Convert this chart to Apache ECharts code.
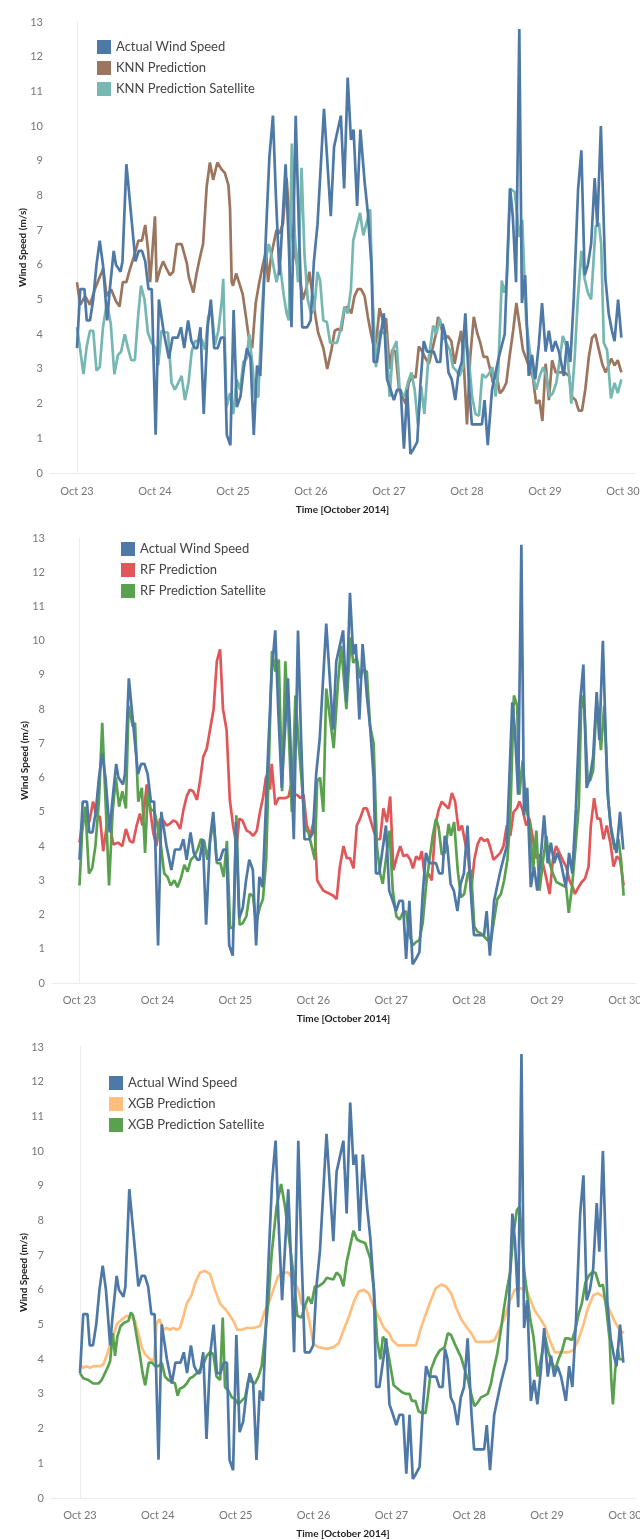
<!DOCTYPE html>
<html><head><meta charset="utf-8">
<script src="https://cdn.jsdelivr.net/npm/echarts@6/dist/echarts.min.js"></script>
<style>
html,body{margin:0;padding:0;background:#fff;width:640px;height:1539px;overflow:hidden}
.p{position:absolute;left:0;width:640px}
#p1{top:0;height:525px}#p2{top:515px;height:525px}#p3{top:1025px;height:514px}
</style></head><body>
<div id="p1" class="p"></div><div id="p2" class="p"></div><div id="p3" class="p"></div>
<script>
// hours since Oct 23 00:00
const tickHours = [0,24,48,72,96,120,144,168];
const tickLabels = ['Oct 23','Oct 24','Oct 25','Oct 26','Oct 27','Oct 28','Oct 29','Oct 30'];
const yTicks = [0,1,2,3,4,5,6,7,8,9,10,11,12,13];

const actual = [[0,3.6],[1,5.3],[2.3,5.3],[3,4.4],[4,4.4],[5,5.0],[6,6.0],[7,6.7],[8,6.0],[9.3,4.4],[10,5.2],[11.3,6.4],[12,6.0],[13.4,5.8],[14,6.1],[15.2,8.9],[17,7.1],[18,6.1],[19,6.4],[20,6.4],[21,6.1],[22,5.3],[23,5.3],[24.2,1.1],[25.2,5.0],[26.8,4.0],[28.3,3.3],[29.4,3.9],[31,3.9],[32,4.2],[33,3.6],[34.2,4.4],[35.2,3.8],[36.3,3.6],[37,3.6],[38,4.2],[39,1.7],[40.2,4.2],[41.2,5.0],[42.2,3.6],[43.3,3.6],[44.3,3.9],[45.3,3.9],[46.1,1.1],[47.2,0.8],[48.2,4.7],[49.2,1.9],[50.3,2.2],[51.3,3.0],[52.3,3.6],[53.4,3.3],[54.4,1.1],[55.4,3.1],[56.4,2.8],[58.2,7.0],[59.2,9.1],[60.3,10.3],[61.2,8.0],[62.3,5.7],[64.2,8.9],[65.2,6.5],[66,4.2],[67.3,10.3],[68.3,7.0],[69.3,4.2],[70.8,4.2],[71.9,4.4],[72.9,6.1],[74,7.15],[76,10.5],[78.1,7.4],[79.1,9.4],[81.2,10.3],[82.2,8.2],[83.3,11.4],[84.3,9.6],[85.1,9.9],[86.2,7.7],[87.2,9.9],[88.5,8.4],[89.5,7.5],[90.6,6.0],[91.3,3.2],[92.3,3.2],[94.4,4.6],[95.4,2.7],[96.5,2.4],[97.5,2.1],[98.5,2.4],[99.6,2.4],[100.6,0.7],[101.6,2.4],[102.6,0.55],[103.6,0.7],[104.7,0.9],[105.7,2.6],[106.7,3.8],[107.7,3.5],[108.8,3.5],[109.8,3.5],[110.8,3.2],[111.8,3.2],[112.5,4.3],[113.3,4.0],[114.3,2.9],[115.3,2.7],[116.4,2.1],[117.4,2.9],[118.4,3.2],[119.5,4.6],[120.7,2.4],[121.5,1.4],[122.5,1.4],[123.5,1.4],[124.6,1.4],[125.4,2.1],[126.4,0.8],[127.7,2.4],[129.7,3.3],[131.6,4.0],[133.3,8.2],[134.1,7.4],[135.1,5.5],[136.1,12.8],[136.9,4.9],[137.9,5.7],[139,2.8],[140,3.4],[141,2.7],[142.1,3.7],[143.1,4.9],[144.2,3.5],[145.2,4.1],[146.2,3.5],[147.2,3.8],[148.3,3.5],[149.8,2.8],[150.8,3.8],[151.8,3.2],[152.9,5.1],[154.2,8.2],[155.2,9.3],[156.2,5.7],[157.2,6.0],[158.2,6.6],[159.3,8.5],[160.1,7.1],[161.2,10.0],[162.6,5.6],[163.6,4.6],[164.6,4.1],[165.4,3.8],[166.5,5.0],[167.5,3.9]];

const knn = [[0,5.5],[1,4.85],[2.5,5.1],[4,4.85],[5.5,5.3],[7,5.65],[8.1,5.9],[9.1,5.1],[10.5,5.3],[12,4.95],[13.1,4.8],[14.1,5.5],[15.2,5.5],[16.2,5.85],[17.4,6.2],[18.9,6.7],[20,6.7],[21,7.15],[21.9,6.4],[22.5,5.5],[24,7.4],[24.5,5.5],[25.5,5.85],[26.5,6.1],[27.5,5.9],[28.6,5.7],[29.6,5.8],[30.7,6.6],[32.2,6.6],[33.8,6.05],[34.4,5.65],[35.8,5.2],[36.8,5.75],[37.8,6.2],[38.8,6.6],[39.9,8.25],[40.9,8.95],[41.9,8.45],[43.2,8.95],[44.5,8.75],[45.5,8.65],[46.6,8.3],[47.1,7.6],[47.6,5.5],[48,5.4],[49,5.75],[50,5.45],[51,5.15],[52,4.5],[52.8,3.95],[53.9,3.6],[55,4.9],[56,5.45],[57.2,6.0],[58.2,6.4],[58.8,5.5],[59.8,6.3],[61.4,7.0],[62.3,6.9],[63.4,7.2],[64.5,8.5],[65.3,7.4],[66,7.0],[67,6.3],[68.3,5.8],[69.5,5.0],[70.5,5.3],[71.5,5.8],[72.5,5.1],[73.4,4.5],[74.2,4.05],[75.8,3.6],[77,3.0],[78.3,3.55],[79.3,4.1],[80.3,4.15],[81.3,4.1],[82.3,4.7],[83.3,4.8],[84.4,4.6],[85.4,5.1],[86.4,5.3],[87.4,5.3],[88.5,5.1],[89.5,4.5],[90.5,4.0],[91.5,3.55],[92.3,4.0],[93.1,4.75],[94.1,4.4],[95.1,4.45],[96.2,3.0],[97,3.55],[98,3.5],[99.1,2.4],[100.1,2.2],[101.1,2.0],[102.1,2.6],[103.2,2.8],[104.2,2.75],[105.2,3.65],[106.2,3.5],[107.3,3.3],[108.3,3.15],[109.3,3.55],[110.3,3.95],[111.1,4.5],[112.1,4.2],[113.1,3.85],[114.1,3.95],[115.2,3.8],[116.2,3.15],[117.2,3.65],[118.2,4.1],[119,3.2],[120,1.4],[121,3.35],[122.1,4.5],[123.1,4.05],[124.1,3.75],[125.1,3.35],[126.2,3.35],[127.2,2.95],[128,2.6],[129,2.9],[130.1,2.3],[131.1,2.4],[132.1,2.6],[133.1,3.35],[134.2,4.1],[135.2,4.9],[136.2,4.25],[137.2,3.55],[138.2,3.3],[139.3,3.0],[140.3,2.75],[141.3,2.0],[142.3,2.1],[143.2,1.5],[144.2,3.15],[145.2,2.1],[146.2,3.25],[147.3,2.9],[148.5,2.9],[150,2.9],[151.4,2.8],[152.3,2.2],[153.4,2.1],[154.4,1.8],[155.4,1.8],[156.4,2.4],[157.5,3.35],[158.5,3.9],[159.5,4.0],[160.6,3.55],[161.6,3.15],[162.6,2.9],[163.6,3.1],[164.4,3.3],[165.4,3.1],[166.4,3.25],[167.5,2.9]];

const knnSat = [[0,4.2],[1,3.55],[2,2.85],[3,3.65],[4,4.1],[5,4.1],[6,2.95],[7,3.05],[8,4.2],[9.2,4.9],[10.4,4.3],[11.5,2.85],[12.6,3.4],[13.6,3.5],[14.7,4.0],[15.7,3.6],[16.7,3.25],[17.8,3.25],[18.8,4.5],[19.7,5.4],[20.8,5.0],[21.8,4.05],[23,3.75],[24.2,3.6],[25,3.1],[26,4.1],[27,4.05],[28,4.05],[29.1,2.6],[30.1,2.4],[31.2,2.6],[32.2,2.8],[33.2,2.1],[34.3,2.6],[35.3,3.5],[36.3,3.8],[37.3,3.8],[38.4,3.85],[39.4,3.55],[40.4,4.5],[41.4,4.7],[42.5,3.7],[43.5,4.1],[44.6,5.0],[45,5.6],[46,1.9],[47.1,2.3],[48.1,1.7],[49.1,2.7],[50.2,2.4],[51.2,3.2],[52.2,3.3],[53,4.0],[54,3.1],[54.8,2.2],[55.8,2.2],[56.8,4.5],[57.8,6.0],[59,6.6],[60,6.2],[61.4,5.5],[62.5,6.0],[63.5,5.2],[64.5,4.6],[65.2,4.4],[66.1,9.5],[67,6.9],[68,5.5],[69.1,8.8],[70,6.3],[71,5.0],[72,4.6],[73,4.7],[74,5.8],[74.8,5.55],[75.8,4.4],[76.9,4.35],[77.9,3.75],[79,3.75],[80,3.75],[81,4.1],[82.3,4.8],[83.3,4.6],[84.3,5.3],[85,6.7],[87.1,7.5],[88.1,6.85],[90.2,7.6],[91,5.0],[92,3.05],[93.1,4.1],[94.1,4.05],[95.1,4.0],[96.2,2.2],[97.2,3.55],[98.3,3.8],[99.3,2.4],[100.8,2.2],[101.8,2.6],[102.9,2.9],[103.9,2.4],[104.9,1.4],[105.9,2.5],[106.9,1.7],[108,3.15],[109.6,4.25],[110.6,4.0],[111.6,4.45],[112.6,4.1],[113.6,3.75],[114.7,3.55],[115.7,3.05],[116.7,2.95],[117.7,2.8],[118.8,3.05],[119.5,4.0],[120.6,3.25],[121.6,2.2],[122.6,1.7],[123.7,1.65],[124.7,2.85],[125.7,2.75],[126.7,2.85],[127.8,3.05],[128.8,2.2],[129.6,2.9],[130.7,5.55],[131.5,5.2],[132.2,5.5],[133.2,8.2],[134.7,8.1],[136.1,6.8],[137,7.3],[138.2,4.4],[139.3,3.55],[140.3,2.8],[141.3,2.4],[142.4,2.8],[143.4,3.05],[144.4,2.8],[145.4,2.2],[146.4,2.3],[147.5,2.6],[148.5,3.25],[149.5,3.95],[150.6,3.65],[151.6,2.65],[152.1,2.0],[153.1,3.25],[154.1,5.0],[155.2,6.4],[156.2,5.6],[157.2,5.2],[158.2,5.0],[159.6,7.1],[160.6,7.2],[161.3,6.6],[162.1,3.75],[163.1,3.55],[164.3,2.15],[165.4,2.6],[166.4,2.3],[167.5,2.7]];

const rf = [[0,4.1],[1,4.75],[2,4.8],[3,4.7],[4.2,5.3],[5.2,4.9],[6.3,4.85],[7.3,3.85],[8.4,4.6],[9.4,4.6],[10.4,4.05],[11.9,4.1],[13.2,4.0],[14.3,4.5],[15.5,4.15],[16.5,4.1],[17.6,4.6],[18.6,4.95],[19.4,4.6],[20.7,5.8],[21.7,5.1],[22.7,4.4],[23.7,4.0],[24.8,4.8],[25.8,4.75],[26.8,4.6],[27.8,4.65],[28.9,4.75],[29.9,4.7],[31,4.5],[32,5.05],[33,5.45],[34,5.65],[35,5.6],[36.2,5.35],[37.2,5.95],[38.1,6.6],[39.2,6.85],[40.2,7.4],[41.3,8.0],[42.3,9.4],[43.3,9.75],[44.2,8.0],[45.3,7.4],[46.3,5.35],[47.3,4.6],[48.4,4.0],[49.2,4.8],[50.2,4.75],[51.5,4.45],[52.5,4.4],[53.5,4.3],[54.6,4.45],[55.6,5.0],[56.6,5.45],[57.4,6.0],[58.2,6.15],[58.7,5.65],[59.2,6.4],[60.3,5.2],[61.3,5.4],[62.3,5.4],[63.4,5.4],[64.4,5.45],[65.1,5.75],[65.9,5.5],[67,5.5],[68,5.4],[69,5.5],[70,4.6],[71.1,4.3],[72.3,4.8],[73.2,3.0],[74.1,2.85],[75.1,2.7],[76.1,2.65],[77.2,2.6],[78.2,2.55],[79.2,2.45],[80.2,3.4],[81.3,4.0],[82.3,3.65],[83.3,3.65],[84.4,3.35],[85.4,4.6],[86.4,4.8],[87.5,5.1],[88.5,5.1],[89.5,4.8],[90.6,4.45],[91.6,4.2],[92.6,4.2],[93.6,5.1],[94.7,4.7],[95.7,5.45],[96.7,3.3],[97.8,3.7],[98.8,4.0],[99.8,3.7],[100.8,3.75],[101.9,3.6],[102.7,3.35],[103.7,3.7],[104.7,3.6],[105.4,3.85],[106.5,3.0],[107.5,3.2],[108.5,3.0],[109.6,4.6],[110.6,5.05],[111.6,5.3],[112.6,5.2],[113.7,5.1],[114.7,5.55],[115.7,5.3],[116.8,4.45],[117.8,4.6],[118.8,4.1],[119.8,3.6],[120.6,2.65],[121.6,3.6],[122.6,4.05],[123.6,4.25],[124.7,4.15],[125.7,4.2],[126.7,3.9],[127.5,3.6],[128.6,3.7],[129.6,3.8],[130.6,4.0],[131.6,4.6],[132.7,4.3],[133.7,5.0],[134.7,5.1],[135.5,5.3],[136.5,5.05],[137.6,4.6],[138.6,4.8],[139.6,4.25],[140.6,3.65],[141.7,3.75],[142.7,3.5],[143.7,3.1],[144.8,2.6],[145.8,3.6],[146.8,4.0],[147.8,3.8],[148.8,3.6],[149.9,3.4],[150.9,3.0],[151.9,2.8],[152.6,2.6],[153.7,2.8],[154.7,2.95],[155.7,3.05],[156.8,3.4],[157.5,4.6],[158.5,5.4],[159.5,4.8],[160.4,4.8],[161.4,4.2],[162.4,4.6],[163.5,4.1],[164.5,3.4],[165.5,3.7],[166.5,3.6],[167.6,2.85]];

const rfSat = [[0,2.85],[0.8,4.4],[1.8,5.15],[2.9,3.2],[3.9,3.35],[4.9,4.0],[6,5.35],[7,7.6],[8.1,5.15],[9.1,2.85],[10.2,5.0],[11.2,6.0],[12.2,5.15],[13.2,5.6],[14.3,5.1],[15.1,8.1],[16.4,7.5],[17.1,7.6],[18.1,5.3],[19.2,5.7],[20.2,3.8],[21,5.55],[22,5.05],[23,5.05],[24,4.6],[25.1,4.0],[26.1,3.2],[27.1,3.1],[28.1,2.85],[29.2,3.0],[30.2,2.8],[31.2,3.05],[32.3,3.45],[33.3,3.25],[34.3,3.6],[35.3,3.7],[36.4,3.9],[37.4,4.2],[38.4,4.15],[39.4,3.6],[40.3,4.2],[41.3,4.75],[42.3,3.5],[43.4,3.5],[44.4,3.1],[45.4,4.15],[46.4,1.6],[47.5,1.65],[48.3,4.9],[49.3,1.7],[50.3,1.75],[51.4,1.95],[52.4,2.6],[53.4,2.55],[54.4,1.75],[55.5,2.2],[56.5,2.45],[57.5,3.6],[58.5,7.0],[59.3,9.7],[60.3,9.1],[61.4,9.45],[62.4,5.6],[63.4,9.4],[64.4,7.5],[65.4,5.0],[66.5,8.4],[67.5,7.0],[68.5,5.8],[69.5,4.5],[70.5,4.4],[71.5,4.0],[72.5,3.6],[73.2,5.9],[74.1,6.0],[75.1,5.0],[76,8.6],[78.3,6.86],[79.6,8.75],[80.6,9.85],[82.2,8.0],[83.5,10.1],[84.3,9.35],[85.4,9.5],[86.4,8.9],[87.4,9.15],[88.5,9.1],[89.5,7.5],[90.6,7.0],[91.6,4.0],[92.6,3.2],[93.4,2.9],[94.5,3.7],[95.5,4.45],[96.5,2.7],[97.6,1.95],[98.6,1.85],[99.6,2.05],[100.6,2.1],[101.6,1.4],[102.7,1.1],[103.7,1.2],[104.7,1.25],[105.7,1.75],[106.8,2.9],[107.8,3.6],[108.8,4.3],[109.8,4.8],[110.6,4.55],[111.6,3.75],[112.6,3.8],[113.7,4.65],[114.4,4.3],[115.4,4.7],[116.5,3.3],[117.5,2.5],[118.5,2.6],[119.6,3.2],[120.6,3.3],[121.6,1.65],[122.6,1.5],[123.6,1.45],[124.7,1.35],[125.7,1.25],[126.7,1.2],[127.7,1.85],[128.7,2.45],[129.8,2.6],[130.8,3.0],[131.8,3.6],[132.7,4.9],[133.8,8.4],[134.8,8.1],[135.5,5.5],[136.5,6.5],[137.7,5.05],[138.7,4.65],[139.7,3.3],[140.7,4.45],[141.7,2.7],[142.8,3.6],[143.8,4.3],[144.8,3.5],[145.8,3.2],[146.9,2.95],[147.9,2.9],[148.9,2.85],[149.9,2.8],[150.7,2.05],[151.7,2.8],[152.8,4.0],[153.8,5.2],[154.6,8.4],[155.5,8.0],[156.5,6.0],[157.2,5.9],[158.2,6.2],[159.3,8.3],[160.6,6.8],[161.6,8.1],[162.9,5.3],[163.8,4.4],[164.8,3.9],[166,4.2],[166.8,3.6],[167.6,2.55]];

const xgb = [[0,3.85],[1,3.75],[2,3.8],[3.1,3.75],[4.1,3.8],[6.2,3.8],[7.2,3.85],[8.2,4.1],[9.8,4.55],[11.3,5.0],[12.9,5.15],[14.4,5.25],[15.9,5.2],[17,5.1],[18,4.75],[19,4.35],[20,4.15],[21.6,4.0],[22.8,3.95],[23.6,5.05],[24.5,5.15],[25.7,4.85],[26.7,4.9],[27.7,4.85],[28.8,4.9],[29.8,4.85],[30.8,4.9],[31.9,5.25],[32.9,5.6],[34.4,5.85],[35.5,6.2],[37,6.5],[38.5,6.55],[40.1,6.45],[41.6,6.0],[43.2,5.6],[45.2,5.4],[47.3,5.1],[48.5,4.85],[49.8,4.85],[51.4,4.9],[53.4,4.9],[55.5,4.95],[57,5.4],[58.1,5.6],[59.6,6.0],[61.1,6.4],[62.7,6.5],[64.2,6.5],[65.8,6.3],[67.3,6.0],[68.3,5.6],[69.7,5.5],[70.7,5.1],[71.9,4.45],[73.5,4.35],[76.1,4.3],[78.1,4.35],[79.7,4.45],[81.3,4.85],[82.8,5.2],[84.4,5.65],[85.9,5.95],[87.5,6.0],[89,5.9],[90.6,5.5],[92.2,5.2],[93.7,4.9],[95.3,4.75],[96.3,4.55],[97.9,4.4],[99.9,4.4],[102,4.4],[103.6,4.4],[105.1,4.9],[106.6,5.3],[108.2,5.7],[109.7,6.05],[111.3,6.15],[112.8,6.1],[114.4,5.9],[115.9,5.5],[117.5,5.15],[119,4.95],[120.6,4.75],[122.1,4.5],[124.2,4.5],[126.2,4.5],[127.8,4.55],[129.3,4.85],[130.9,5.2],[132.4,5.65],[134,6.0],[135.5,6.05],[137.6,6.0],[138.9,5.7],[140.2,5.4],[141.7,5.2],[143.3,4.95],[144.8,4.55],[146.4,4.2],[148.4,4.2],[150.5,4.2],[152,4.25],[153.6,4.55],[155.2,5.0],[156.7,5.5],[158.3,5.85],[159.8,5.9],[161.4,5.8],[162.9,5.5],[164.5,5.15],[166,4.9],[167.6,4.75]];

const xgbSat = [[0,3.6],[1,3.45],[2.6,3.4],[4.1,3.3],[5.7,3.3],[6.7,3.4],[7.7,3.6],[8.7,3.8],[9.3,3.95],[10.1,4.75],[10.8,4.1],[11.5,4.65],[12.5,4.95],[13.6,5.05],[14.9,5.1],[15.7,5.35],[16.4,5.25],[17.5,4.65],[18.5,4.1],[19.3,3.6],[20.1,3.25],[21.2,3.9],[22.2,3.9],[23.2,3.8],[24.2,3.8],[25.2,3.9],[26.2,3.5],[27.2,3.4],[28.3,3.35],[29.3,3.3],[30.1,2.95],[30.8,3.15],[31.9,3.2],[32.9,3.3],[33.9,3.45],[34.9,3.5],[36,3.6],[37,3.7],[38,3.85],[39.1,4.1],[40.1,4.2],[41.1,4.15],[42.1,3.5],[43.2,3.4],[44,5.2],[44.7,3.2],[45.7,3.1],[46.8,2.9],[47.8,2.85],[48.8,2.7],[49.8,2.8],[50.9,2.9],[51.9,3.4],[52.9,3.35],[53.9,3.3],[55,3.5],[56,3.8],[57,4.65],[58.1,5.7],[59.1,7.05],[60.6,8.4],[62,9.05],[63.2,8.4],[64.7,7.3],[65.8,6.45],[67,5.25],[68.3,5.2],[69.4,5.55],[70.4,5.8],[71.4,5.6],[72.4,6.1],[73.5,6.1],[75,6.2],[76.1,6.35],[78.1,6.3],[79.1,6.5],[80.2,6.4],[81.2,6.1],[82.2,6.8],[84.3,7.7],[85.4,7.45],[86.4,7.4],[87.9,7.35],[89.5,6.9],[90.6,6.0],[91.6,4.55],[92.6,4.0],[93.4,4.65],[94.5,4.45],[95.7,3.8],[96.7,3.25],[98,3.15],[99.3,3.05],[100.6,3.0],[101.6,3.0],[102.3,2.8],[103.4,2.8],[104.4,2.5],[105.4,2.45],[106.5,2.45],[107.2,2.9],[108.2,3.7],[109.6,4.05],[110.9,4.25],[112.4,4.35],[113.4,4.75],[114.4,4.7],[115.5,4.45],[116.5,4.25],[117.5,4.05],[118.6,3.7],[119.6,3.4],[120.6,3.0],[121.6,2.65],[122.6,2.75],[123.6,2.9],[124.7,2.95],[125.7,3.0],[126.7,3.3],[127.5,3.7],[128.6,4.15],[129.6,4.75],[130.6,5.4],[131.6,6.0],[132.6,6.5],[133.6,7.6],[134.7,8.3],[135.5,8.4],[136.2,7.6],[137,6.5],[137.7,6.0],[138.8,5.15],[139.8,4.65],[141.1,3.5],[142.1,4.0],[143.4,4.65],[144.4,4.2],[145.5,3.9],[146.5,3.7],[147.5,4.0],[148.6,4.25],[149.6,4.6],[150.6,4.6],[151.7,4.55],[152.7,4.85],[153.7,5.3],[154.7,5.6],[155.8,6.2],[156.8,6.4],[157.8,6.5],[158.9,6.5],[160.2,6.1],[161.2,6.15],[162.2,5.5],[163.3,4.55],[163.8,3.4],[164.3,2.7],[165,3.7],[165.8,4.3],[166.3,4.0],[167.3,4.0]];

const C_ACTUAL = '#4e79a7';
const FONT = 'Lato, "Open Sans", sans-serif';

function build(id, cfg) {
  const chart = echarts.init(document.getElementById(id), null, {renderer: 'canvas'});
  const series = cfg.lines.map(l => ({
    name: l.name, type: 'line', data: l.data, showSymbol: false, symbol: 'none',
    lineStyle: {width: 2.7, color: l.color}, itemStyle: {color: l.color},
    z: l.z, animation: false, clip: false
  }));
  chart.setOption({
    animation: false,
    backgroundColor: 'transparent',
    textStyle: {fontFamily: FONT},
    grid: {left: cfg.left, right: 5, top: cfg.top, bottom: cfg.bottom, containLabel: false, outerBoundsMode: 'none'},
    legend: {
      orient: 'vertical', left: cfg.legLeft, top: cfg.legTop, icon: 'rect', padding: 0,
      itemWidth: 14, itemHeight: 14, itemGap: 7,
      data: cfg.legend,
      textStyle: {fontSize: 13, color: '#444', fontFamily: FONT}
    },
    xAxis: {
      type: 'value', min: cfg.xmin, max: cfg.xmax, offset: cfg.off,
      name: 'Time [October 2014]', nameLocation: 'middle', nameGap: 25, nameMoveOverlap: false,
      nameTextStyle: {fontSize: 10, fontWeight: 'bold', color: '#222', fontFamily: FONT},
      axisLine: {show: true, lineStyle: {color: '#ececec', width: 1}},
      axisTick: {show: false},
      splitLine: {show: false},
      axisLabel: {
        customValues: tickHours, margin: 6, fontSize: 11, color: '#777', fontFamily: FONT,
        formatter: v => { const i = tickHours.indexOf(v); return i >= 0 ? tickLabels[i] : ''; }
      }
    },
    yAxis: {
      type: 'value', min: 0, max: 13, interval: 1,
      name: 'Wind Speed (m/s)', nameLocation: 'middle', nameGap: 22, nameMoveOverlap: false,
      nameTextStyle: {fontSize: 10, fontWeight: 'bold', color: '#222', fontFamily: FONT},
      axisLine: {show: true, lineStyle: {color: '#ececec', width: 1}},
      axisTick: {show: false},
      splitLine: {show: false},
      axisLabel: {customValues: yTicks, margin: 7, fontSize: 11, color: '#777', fontFamily: FONT}
    },
    series: series
  });
}

build('p1', {
  left: 50, top: 22, bottom: 52, off: 7, xmin: -8.3, xmax: 171.7, legLeft: 97, legTop: 40,
  legend: ['Actual Wind Speed', 'KNN Prediction', 'KNN Prediction Satellite'],
  lines: [
    {name: 'KNN Prediction', data: knn, color: '#9c755f', z: 2},
    {name: 'KNN Prediction Satellite', data: knnSat, color: '#76b7b2', z: 3},
    {name: 'Actual Wind Speed', data: actual, color: C_ACTUAL, z: 4}
  ]
});
build('p2', {
  left: 52, top: 23, bottom: 57, off: 6, xmin: -8.47, xmax: 171.1, legLeft: 121, legTop: 27,
  legend: ['Actual Wind Speed', 'RF Prediction', 'RF Prediction Satellite'],
  lines: [
    {name: 'RF Prediction', data: rf, color: '#e15759', z: 2},
    {name: 'RF Prediction Satellite', data: rfSat, color: '#59a14f', z: 3},
    {name: 'Actual Wind Speed', data: actual, color: C_ACTUAL, z: 4}
  ]
});
build('p3', {
  left: 51, top: 22, bottom: 41, off: 6, xmin: -8.94, xmax: 171.1, legLeft: 109, legTop: 51,
  legend: ['Actual Wind Speed', 'XGB Prediction', 'XGB Prediction Satellite'],
  lines: [
    {name: 'XGB Prediction', data: xgb, color: '#ffbe7d', z: 2},
    {name: 'XGB Prediction Satellite', data: xgbSat, color: '#59a14f', z: 3},
    {name: 'Actual Wind Speed', data: actual, color: C_ACTUAL, z: 4}
  ]
});
</script>
</body></html>
